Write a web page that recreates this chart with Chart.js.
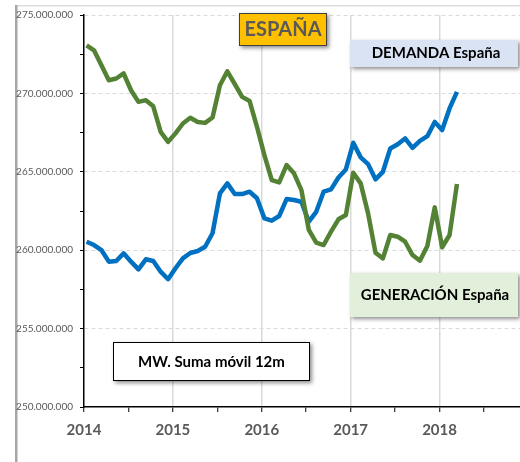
<!DOCTYPE html>
<html>
<head>
<meta charset="utf-8">
<script src="https://cdn.jsdelivr.net/npm/chart.js@4.4.1/dist/chart.umd.min.js"></script>
<style>
  html, body { margin: 0; padding: 0; background: #fff; }
  #wrap { width: 520px; height: 462px; }
</style>
</head>
<body>
<div id="wrap"><canvas id="chart1" width="520" height="462"></canvas></div>
<script>
// 12 month rolling sums, Jan 2014 .. Mar 2018, in millions of MW
const months = [
  '2014-01','2014-02','2014-03','2014-04','2014-05','2014-06','2014-07','2014-08','2014-09','2014-10','2014-11','2014-12',
  '2015-01','2015-02','2015-03','2015-04','2015-05','2015-06','2015-07','2015-08','2015-09','2015-10','2015-11','2015-12',
  '2016-01','2016-02','2016-03','2016-04','2016-05','2016-06','2016-07','2016-08','2016-09','2016-10','2016-11','2016-12',
  '2017-01','2017-02','2017-03','2017-04','2017-05','2017-06','2017-07','2017-08','2017-09','2017-10','2017-11','2017-12',
  '2018-01','2018-02','2018-03'
];
const demanda = [
  260.54, 260.33, 260.01, 259.27, 259.31, 259.80, 259.27, 258.78, 259.42, 259.31, 258.63, 258.15,
  258.85, 259.48, 259.82, 259.95, 260.22, 261.08, 263.62, 264.26, 263.58, 263.58, 263.73, 263.31,
  262.03, 261.88, 262.18, 263.26, 263.20, 263.09, 261.82, 262.45, 263.73, 263.88, 264.64, 265.15,
  266.85, 265.92, 265.49, 264.52, 265.00, 266.49, 266.76, 267.13, 266.53, 266.97, 267.27, 268.18,
  267.66, 269.04, 270.10
];
const generacion = [
  273.07, 272.75, 271.80, 270.84, 270.95, 271.27, 270.20, 269.46, 269.57, 269.18, 267.55, 266.91,
  267.45, 268.08, 268.45, 268.18, 268.12, 268.46, 270.52, 271.41, 270.60, 269.78, 269.52, 267.87,
  266.06, 264.47, 264.32, 265.43, 264.90, 263.83, 261.29, 260.48, 260.33, 261.18, 261.97, 262.24,
  264.94, 264.26, 262.35, 259.84, 259.48, 260.97, 260.86, 260.54, 259.69, 259.33, 260.27, 262.73,
  260.19, 260.97, 264.22
];
const yearLabels = ['2014', '2015', '2016', '2017', '2018'];
const yTicks = [250, 252.5, 255, 257.5, 260, 262.5, 265, 267.5, 270, 272.5, 275];

const monthOffset = 0.35; // points sit a little after the year tick
const FONT = 'Lato, "Open Sans", sans-serif';

function fmtMillions(v) {
  return String(Math.round(v * 1e6)).replace(/\B(?=(\d{3})+(?!\d))/g, '.');
}

function toPoints(arr) {
  return arr.map((v, i) => ({ x: i + monthOffset, y: v }));
}

function box(ctx, x, y, w, h, fill, stroke) {
  ctx.save();
  ctx.shadowColor = 'rgba(0,0,0,0.45)';
  ctx.shadowBlur = 4;
  ctx.shadowOffsetX = 2;
  ctx.shadowOffsetY = 2;
  ctx.fillStyle = fill;
  ctx.fillRect(x, y, w, h);
  ctx.restore();
  if (stroke) {
    ctx.strokeStyle = stroke;
    ctx.lineWidth = 1;
    ctx.strokeRect(x + 0.5, y + 0.5, w - 1, h - 1);
  }
}

function label(ctx, text, x, y, size, color) {
  ctx.save();
  ctx.font = 'bold ' + size + 'px ' + FONT;
  ctx.fillStyle = color;
  ctx.textAlign = 'center';
  ctx.textBaseline = 'middle';
  ctx.fillText(text, x, y);
  ctx.restore();
}

const framePlugin = {
  id: 'frame',
  beforeDraw(chart) {
    const ctx = chart.ctx;
    ctx.save();
    ctx.fillStyle = '#fff';
    ctx.fillRect(0, 0, 520, 462);
    ctx.fillStyle = '#dcdcdc';
    ctx.fillRect(15, 5, 505, 1.5);
    ctx.fillStyle = '#a6a6a6';
    ctx.fillRect(15, 5, 2.5, 457);
    ctx.restore();
  },
  afterDraw(chart) {
    const ctx = chart.ctx;
    box(ctx, 239, 13, 88, 33, '#FFC000', '#404040');
    label(ctx, 'ESPAÑA', 283, 30, 20, '#595959');
    box(ctx, 350, 40, 168, 27, '#DAE3F3');
    label(ctx, 'DEMANDA España', 436, 53.5, 15, '#000');
    box(ctx, 350, 273, 168, 44, '#E2EFDA');
    label(ctx, 'GENERACIÓN España', 435, 295, 15, '#000');
    box(ctx, 113, 342, 197, 39, '#fff', '#000');
    label(ctx, 'MW. Suma móvil 12m', 211.5, 362.5, 15, '#000');
  }
};

document.addEventListener('DOMContentLoaded', function() {
  const ctx1 = document.getElementById('chart1').getContext('2d');
  new Chart(ctx1, {
    type: 'line',
    data: {
      labels: months,
      datasets: [{
        label: 'GENERACIÓN España',
        data: toPoints(generacion),
        borderColor: '#548235',
        borderWidth: 4.5,
        pointRadius: 0,
        tension: 0,
        borderJoinStyle: 'round',
        fill: false
      }, {
        label: 'DEMANDA España',
        data: toPoints(demanda),
        borderColor: '#0070C0',
        borderWidth: 4.5,
        pointRadius: 0,
        tension: 0,
        borderJoinStyle: 'round',
        fill: false
      }]
    },
    options: {
      responsive: false,
      animation: false,
      layout: { padding: { top: 15, right: 0, bottom: 0, left: 0 } },
      plugins: { legend: { display: false }, tooltip: { enabled: false } },
      scales: {
        x: {
          type: 'linear',
          min: 0,
          max: 58.86,
          afterBuildTicks: (s) => { s.ticks = [0, 6, 12, 18, 24, 30, 36, 42, 48, 54].map(v => ({ value: v })); },
          afterFit: (s) => { s.height = 55; },
          grid: {
            color: (c) => (c.tick && c.tick.value % 12 === 0 && c.tick.value > 0) ? '#d9d9d9' : 'rgba(0,0,0,0)',
            lineWidth: 1.5,
            tickColor: '#000',
            tickLength: 5,
            tickWidth: 1
          },
          border: { color: '#000', width: 1.5 },
          ticks: {
            autoSkip: false,
            maxRotation: 0,
            padding: 9,
            color: '#595959',
            font: { family: FONT, size: 15, weight: 'bold' },
            callback: (v) => v % 12 === 0 ? yearLabels[v / 12] : ''
          }
        },
        y: {
          min: 250,
          max: 275,
          afterBuildTicks: (s) => { s.ticks = yTicks.map(v => ({ value: v })); },
          afterFit: (s) => { s.width = 84; },
          grid: {
            color: (c) => (c.tick && c.tick.value % 5 === 0 && c.tick.value > 250) ? '#d9d9d9' : 'rgba(0,0,0,0)',
            lineWidth: 1,
            tickColor: '#000',
            tickLength: 4,
            tickWidth: 1
          },
          border: { color: '#000', width: 1.5, dash: [4, 3] },
          ticks: {
            padding: 7,
            color: '#595959',
            font: { family: FONT, size: 10 },
            callback: (v) => v % 5 === 0 ? fmtMillions(v) : ''
          }
        }
      }
    },
    plugins: [framePlugin]
  });
});
</script>
</body>
</html>
